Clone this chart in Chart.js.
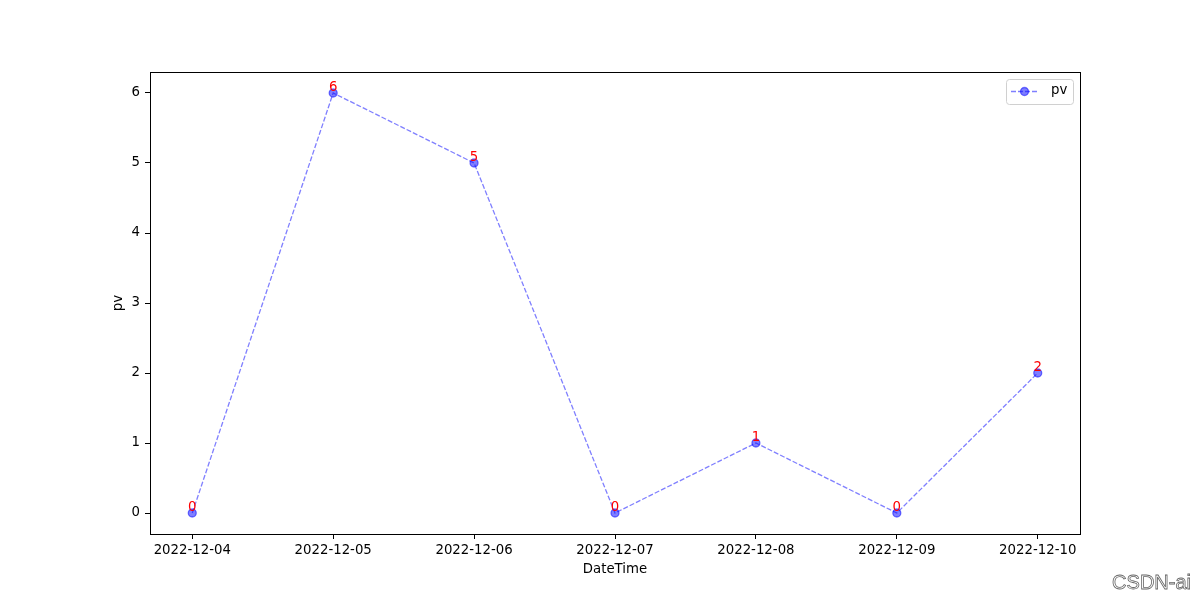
<!DOCTYPE html>
<html>
<head>
<meta charset="utf-8">
<script src="https://cdn.jsdelivr.net/npm/chart.js@4/dist/chart.umd.min.js"></script>
<style>
  html, body { margin: 0; padding: 0; background: #fff; }
  #wrap { position: relative; width: 1200px; height: 600px; }
  #mark {
    position: absolute; right: 9px; bottom: 6px;
    font: 20px "Liberation Sans", sans-serif; color: #fff;
    -webkit-text-stroke: 0.8px #666;
  }
</style>
</head>
<body>
<div id="wrap">
  <canvas id="c" width="1200" height="600"></canvas>
  <div id="mark">CSDN-ai</div>
</div>
<script>
// data
const dates = ['2022-12-04', '2022-12-05', '2022-12-06', '2022-12-07', '2022-12-08', '2022-12-09', '2022-12-10'];
const pv = [0, 6, 5, 0, 1, 0, 2];
const yTicks = [0, 1, 2, 3, 4, 5, 6];

const FONT = '"DejaVu Sans", sans-serif';

// box round the axes, axis titles, red value labels, legend
const extras = {
    id: 'extras',
    afterDatasetsDraw(chart) {
        const ctx = chart.ctx;
        const a = chart.chartArea;
        const xs = chart.scales.x, ys = chart.scales.y;
        ctx.save();
        ctx.strokeStyle = '#000';
        ctx.lineWidth = 1;
        ctx.strokeRect(Math.round(a.left) + 0.5, Math.round(a.top) + 0.5,
            Math.round(a.right - a.left), Math.round(a.bottom - a.top));

        // axis titles
        ctx.fillStyle = '#000';
        ctx.font = '13.3px ' + FONT;
        ctx.textAlign = 'center';
        ctx.textBaseline = 'middle';
        ctx.fillText('DateTime', (a.left + a.right) / 2, 570);
        ctx.save();
        ctx.translate(119, (a.top + a.bottom) / 2);
        ctx.rotate(-Math.PI / 2);
        ctx.fillText('pv', 0, 0);
        ctx.restore();

        // value labels
        ctx.fillStyle = 'red';
        ctx.textBaseline = 'alphabetic';
        pv.forEach((v, i) => {
            ctx.fillText(String(v), xs.getPixelForValue(i), ys.getPixelForValue(v) - 2);
        });

        // legend
        const lx = 1006, ly = 79, lw = 67, lh = 25;
        ctx.fillStyle = 'rgba(255,255,255,0.8)';
        ctx.strokeStyle = '#d0d0d0';
        ctx.beginPath();
        ctx.roundRect(lx + 0.5, ly + 0.5, lw, lh, 3);
        ctx.fill();
        ctx.stroke();
        ctx.strokeStyle = 'rgba(0,0,255,0.5)';
        ctx.lineWidth = 1.3;
        ctx.setLineDash([5, 2]);
        ctx.beginPath();
        ctx.moveTo(lx + 5, ly + 12.5);
        ctx.lineTo(lx + 32, ly + 12.5);
        ctx.stroke();
        ctx.setLineDash([]);
        ctx.fillStyle = 'rgba(0,0,255,0.5)';
        ctx.beginPath();
        ctx.arc(lx + 18.5, ly + 12.5, 4, 0, Math.PI * 2);
        ctx.fill();
        ctx.stroke();
        ctx.fillStyle = '#000';
        ctx.textAlign = 'left';
        ctx.textBaseline = 'middle';
        ctx.fillText('pv', lx + 45, ly + 12);
        ctx.restore();
    }
};

new Chart(document.getElementById('c'), {
    type: 'line',
    data: {
        datasets: [{
            label: 'pv',
            data: pv.map((v, i) => ({ x: i, y: v })),
            borderColor: 'rgba(0,0,255,0.5)',
            backgroundColor: 'rgba(0,0,255,0.5)',
            borderWidth: 1.3,
            borderDash: [5, 2],
            pointRadius: 4,
            pointBorderWidth: 1.3,
            pointBorderColor: 'rgba(0,0,255,0.5)',
            pointBackgroundColor: 'rgba(0,0,255,0.5)',
            tension: 0,
            fill: false
        }]
    },
    plugins: [extras],
    options: {
        responsive: false,
        animation: false,
        layout: { padding: { left: 0, right: 120, top: 72, bottom: 0 } },
        plugins: { legend: { display: false }, tooltip: { enabled: false } },
        scales: {
            x: {
                type: 'linear',
                min: -0.3,
                max: 6.3,
                afterBuildTicks(scale) {
                    scale.ticks = dates.map((d, i) => ({ value: i }));
                },
                afterFit(scale) { scale.height = 66; },
                ticks: {
                    callback: (v) => dates[v],
                    color: '#000',
                    font: { family: FONT, size: 13.3 },
                    padding: 4,
                    maxRotation: 0,
                    autoSkip: false
                },
                grid: { drawOnChartArea: false, tickLength: 5, tickColor: '#000' },
                border: { color: '#000' }
            },
            y: {
                min: -0.3,
                max: 6.3,
                afterBuildTicks(scale) {
                    scale.ticks = yTicks.map(v => ({ value: v }));
                },
                afterFit(scale) { scale.width = 150; },
                ticks: {
                    color: '#000',
                    font: { family: FONT, size: 13.3 },
                    padding: 5
                },
                grid: { drawOnChartArea: false, tickLength: 5, tickColor: '#000' },
                border: { color: '#000' }
            }
        }
    }
});
</script>
</body>
</html>
